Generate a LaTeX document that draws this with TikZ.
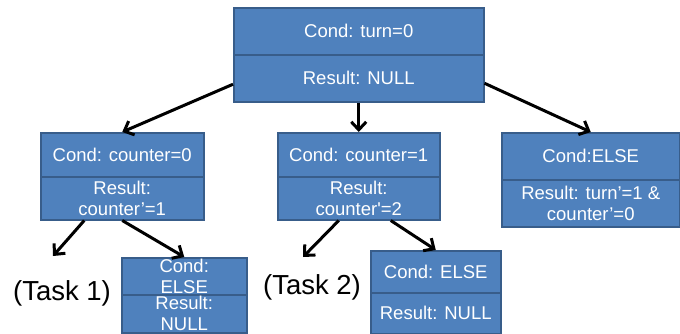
\documentclass[tikz,border=0pt]{standalone}
\usepackage{fontspec}
\setmainfont{Liberation Sans}
\usetikzlibrary{arrows.meta,calc}
\definecolor{boxfill}{HTML}{4F81BD}
\definecolor{boxline}{HTML}{385D8A}
\begin{document}
\begin{tikzpicture}[x=1pt,y=-1pt,
  cell/.style={draw=boxline, line width=1.5pt, fill=boxfill, text=white, align=center,
    inner sep=0pt, font=\fontsize{18.5}{21}\selectfont, anchor=north west},
  arr/.style={line width=3pt, -{Straight Barb[length=8pt,width=15pt]}},
  task/.style={font=\fontsize{27.5}{30}\selectfont, inner sep=0pt}]
\useasboundingbox (0,0) rectangle (680,333);
\fill[white] (0,0) rectangle (680,333);
% top box
\node[cell, minimum width=250pt, minimum height=47pt] (tc) at (233,7) {Cond: turn=0};
\node[cell, minimum width=250pt, minimum height=47pt] (tr) at (233,54) {Result: NULL};
% counter=0 box
\node[cell, minimum width=163pt, minimum height=44pt] (ac) at (40,132) {Cond: counter=0};
\node[cell, minimum width=163pt, minimum height=43pt] (ar) at (40,176) {Result:\\counter’=1};
% counter=1 box
\node[cell, minimum width=162pt, minimum height=44pt] (bc) at (277,132) {Cond: counter=1};
\node[cell, minimum width=162pt, minimum height=43pt] (br) at (277,176) {Result:\\counter\textquotesingle=2};
% else box right
\node[cell, minimum width=178pt, minimum height=47pt] (cc) at (501,132) {Cond:ELSE};
\node[cell, minimum width=178pt, minimum height=47pt] (cr) at (501,179) {Result: turn’=1 \&\\counter’=0};
% small else box 1
\node[cell, minimum width=125pt, minimum height=37pt] (dc) at (121,257) {Cond:\\ELSE};
\node[cell, minimum width=125pt, minimum height=38pt] (dr) at (121,294) {Result:\\NULL};
% small else box 2
\node[cell, minimum width=130pt, minimum height=42pt] (ec) at (370,250) {Cond: ELSE};
\node[cell, minimum width=130pt, minimum height=41pt] (er) at (370,292) {Result: NULL};
% task labels
\node[task] (t1) at (62,293) {(Task 1)};
\node[task] (t2) at (312,287) {(Task 2)};
\coordinate (t1a) at (53,256);
\coordinate (t2a) at (303,257);
% arrows
\draw[arr] ($(tr.west)+(0,6)$) -- (ac.north);
\draw[arr] (tr.south) -- (bc.north);
\draw[arr] ($(tr.east)+(0,5)$) -- (cc.north);
\draw[arr] ($(ar.south)+(-38,0)$) -- (t1a);
\draw[arr] (ar.south) -- (dc.north);
\draw[arr] ($(br.south)+(-20,0)$) -- (t2a);
\draw[arr] ($(br.south)+(32,0)$) -- (ec.north);
\end{tikzpicture}
\end{document}
